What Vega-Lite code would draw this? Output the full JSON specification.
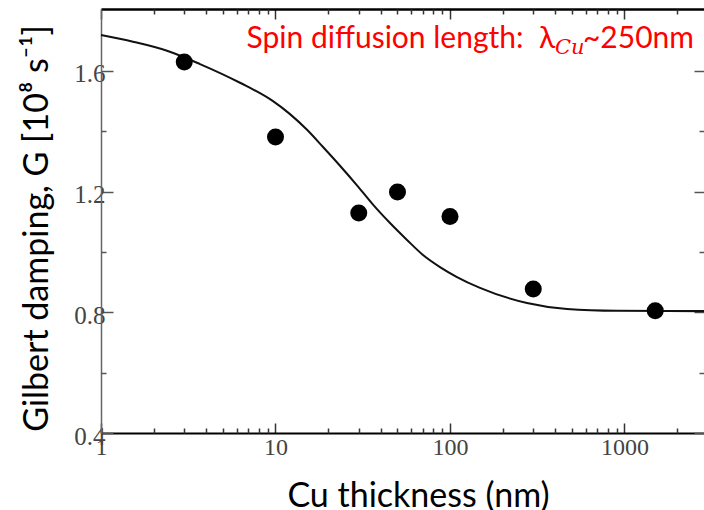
{
  "$schema": "https://vega.github.io/schema/vega-lite/v6.json",
  "width": 603,
  "height": 424,
  "autosize": "none",
  "padding": {"left": 101, "top": 9, "right": 0, "bottom": 77},
  "background": "white",
  "config": {"view": {"stroke": null}, "axis": {"grid": false, "labelOverlap": false, "labelFlush": false}},
  "datasets": {
    "fit": [
      {"thickness": 1, "G": 1.719},
      {"thickness": 1.525, "G": 1.697},
      {"thickness": 2.389, "G": 1.667},
      {"thickness": 3.692, "G": 1.623},
      {"thickness": 6.261, "G": 1.561},
      {"thickness": 9.676, "G": 1.5},
      {"thickness": 12.11, "G": 1.457},
      {"thickness": 15.16, "G": 1.405},
      {"thickness": 18.72, "G": 1.348},
      {"thickness": 23.42, "G": 1.286},
      {"thickness": 29.31, "G": 1.221},
      {"thickness": 36.21, "G": 1.157},
      {"thickness": 45.32, "G": 1.096},
      {"thickness": 56.7, "G": 1.04},
      {"thickness": 70.03, "G": 0.99},
      {"thickness": 87.63, "G": 0.95},
      {"thickness": 109.7, "G": 0.917},
      {"thickness": 148.6, "G": 0.881},
      {"thickness": 276.2, "G": 0.831},
      {"thickness": 468.3, "G": 0.811},
      {"thickness": 906, "G": 0.805},
      {"thickness": 2855, "G": 0.804}
    ],
    "measured": [
      {"thickness": 3, "G": 1.63},
      {"thickness": 10, "G": 1.381},
      {"thickness": 30, "G": 1.129},
      {"thickness": 50, "G": 1.199},
      {"thickness": 100, "G": 1.118},
      {"thickness": 300, "G": 0.877},
      {"thickness": 1500, "G": 0.805}
    ]
  },
  "layer": [
    {
      "data": {"name": "fit"},
      "mark": {"type": "line", "color": "#111111", "strokeWidth": 2, "interpolate": "monotone"},
      "encoding": {
        "x": {
          "field": "thickness", "type": "quantitative",
          "scale": {"type": "log", "domain": [1, 2855], "nice": false},
          "axis": {
            "orient": "bottom", "values": [1, 10, 100, 1000], "format": "d",
            "domainColor": "#000000", "domainWidth": 2,
            "tickColor": "#333333", "tickWidth": 1.5, "tickSize": -10,
            "labelFont": "Liberation Serif", "labelFontSize": 24, "labelColor": "#444444",
            "labelPadding": 12, "labelBaseline": "top",
            "title": "Cu thickness (nm)", "titleFont": "Lato", "titleFontSize": 34,
            "titleFontWeight": "normal", "titleColor": "#000000",
            "titleX": 317, "titleY": 73, "titleAlign": "center", "titleBaseline": "alphabetic"
          }
        },
        "y": {
          "field": "G", "type": "quantitative",
          "scale": {"domain": [0.4, 1.8055], "nice": false, "zero": false},
          "axis": {
            "orient": "left", "values": [0.4, 0.8, 1.2, 1.6], "format": ".1f",
            "domainColor": "#666666", "domainWidth": 1.5,
            "tickColor": "#555555", "tickWidth": 1.5, "tickSize": -12,
            "labelFont": "Liberation Serif", "labelFontSize": 25, "labelColor": "#444444",
            "labelPadding": 8, "labelOffset": 3,
            "title": "Gilbert damping, G [10⁸ s⁻¹]", "titleFont": "Lato", "titleFontSize": 34,
            "titleFontWeight": "normal", "titleColor": "#000000", "titleAngle": 270,
            "titleX": -54, "titleY": 219, "titleAlign": "center", "titleBaseline": "alphabetic"
          }
        }
      }
    },
    {
      "data": {"name": "measured"},
      "mark": {"type": "point", "filled": true, "color": "#000000", "opacity": 1, "size": 290},
      "encoding": {
        "x": {
          "field": "thickness", "type": "quantitative",
          "axis": {
            "orient": "bottom", "values": [2, 3, 4, 5, 6, 7, 8, 9, 20, 30, 40, 50, 60, 70, 80, 90, 200, 300, 400, 500, 600, 700, 800, 900, 2000],
            "domain": false, "labels": false, "title": null,
            "tickColor": "#333333", "tickWidth": 1.5, "tickSize": -5
          }
        },
        "y": {
          "field": "G", "type": "quantitative",
          "axis": {
            "orient": "left", "values": [0.6, 1.0, 1.4],
            "domain": false, "labels": false, "title": null,
            "tickColor": "#555555", "tickWidth": 1.5, "tickSize": -5
          }
        }
      }
    },
    {
      "data": {"name": "measured"},
      "mark": {"type": "point", "opacity": 0},
      "encoding": {
        "x": {
          "field": "thickness", "type": "quantitative",
          "axis": {
            "orient": "top", "values": [1, 10, 100, 1000],
            "domainColor": "#000000", "domainWidth": 2.5, "labels": false, "title": null,
            "tickColor": "#333333", "tickWidth": 1.5, "tickSize": -10
          }
        },
        "y": {
          "field": "G", "type": "quantitative",
          "axis": {
            "orient": "right", "values": [0.4, 0.8, 1.2, 1.6],
            "domain": false, "labels": false, "title": null,
            "tickColor": "#555555", "tickWidth": 1.5, "tickSize": -10
          }
        }
      }
    },
    {
      "data": {"name": "measured"},
      "mark": {"type": "point", "opacity": 0},
      "encoding": {
        "x": {
          "field": "thickness", "type": "quantitative",
          "axis": {
            "orient": "top", "values": [2, 3, 4, 5, 6, 7, 8, 9, 20, 30, 40, 50, 60, 70, 80, 90, 200, 300, 400, 500, 600, 700, 800, 900, 2000],
            "domain": false, "labels": false, "title": null,
            "tickColor": "#333333", "tickWidth": 1.5, "tickSize": -5
          }
        },
        "y": {
          "field": "G", "type": "quantitative",
          "axis": {
            "orient": "right", "values": [0.6, 1.0, 1.4],
            "domain": false, "labels": false, "title": null,
            "tickColor": "#555555", "tickWidth": 1.5, "tickSize": -5
          }
        }
      }
    },
    {
      "data": {"values": [{"note": "Spin diffusion length:\u00a0\u00a0λ"}]},
      "mark": {"type": "text", "align": "right", "baseline": "alphabetic", "font": "Lato", "fontSize": 30, "color": "#ff0000"},
      "encoding": {
        "text": {"field": "note"},
        "x": {"datum": 400, "type": "quantitative", "axis": null},
        "y": {"datum": 1.676, "type": "quantitative", "axis": null}
      }
    },
    {
      "data": {"values": [{"note": "Cu"}]},
      "mark": {"type": "text", "align": "left", "baseline": "alphabetic", "font": "DejaVu Serif", "fontStyle": "italic", "fontSize": 21, "color": "#ff0000", "dy": 6},
      "encoding": {
        "text": {"field": "note"},
        "x": {"datum": 400, "type": "quantitative", "axis": null},
        "y": {"datum": 1.676, "type": "quantitative", "axis": null}
      }
    },
    {
      "data": {"values": [{"note": "~250nm"}]},
      "mark": {"type": "text", "align": "left", "baseline": "alphabetic", "font": "Lato", "fontSize": 30, "color": "#ff0000"},
      "encoding": {
        "text": {"field": "note"},
        "x": {"datum": 578, "type": "quantitative", "axis": null},
        "y": {"datum": 1.676, "type": "quantitative", "axis": null}
      }
    }
  ],
  "resolve": {"axis": {"x": "independent", "y": "independent"}}
}
